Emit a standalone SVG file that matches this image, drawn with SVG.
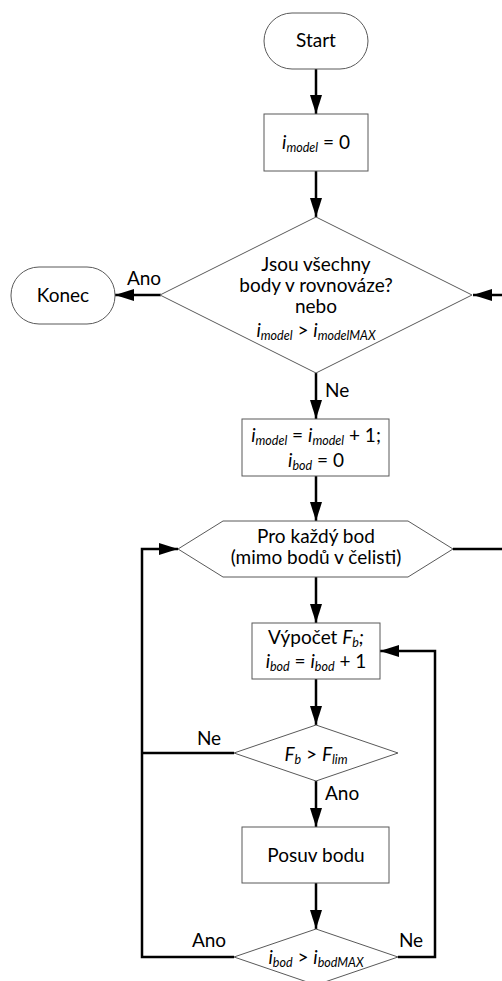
<svg xmlns="http://www.w3.org/2000/svg" width="502" height="981" viewBox="0 0 502 981">
<style>
.shape{fill:#fff;stroke:#595959;stroke-width:1}
.conn{fill:none;stroke:#000;stroke-width:2.5}
text{font-family:Lato,"Open Sans","Liberation Sans",sans-serif;font-size:19px;fill:#000}
.c{text-anchor:middle}
.it{font-style:italic}
.sub{font-style:italic;font-size:12.5px}
</style>
<defs>
<marker id="ah" markerUnits="userSpaceOnUse" markerWidth="19" markerHeight="12" refX="19" refY="6" orient="auto">
<path d="M0,0 L19,6 L0,12 z" fill="#000"/>
</marker>
</defs>
<rect width="502" height="981" fill="#fff"/>
<g id="connectors">
<line class="conn" x1="316" y1="69" x2="316" y2="114" marker-end="url(#ah)"/>
<line class="conn" x1="316" y1="171" x2="316" y2="217" marker-end="url(#ah)"/>
<line class="conn" x1="161" y1="295" x2="115" y2="295" marker-end="url(#ah)"/>
<line class="conn" x1="316" y1="373" x2="316" y2="419" marker-end="url(#ah)"/>
<line class="conn" x1="316" y1="476" x2="316" y2="521" marker-end="url(#ah)"/>
<polyline class="conn" points="453,549 515,549 515,295 473,295" marker-end="url(#ah)"/>
<line class="conn" x1="316" y1="577" x2="316" y2="623" marker-end="url(#ah)"/>
<line class="conn" x1="316" y1="679" x2="316" y2="725" marker-end="url(#ah)"/>
<polyline class="conn" points="234,753 142,753"/>
<line class="conn" x1="316" y1="781" x2="316" y2="827" marker-end="url(#ah)"/>
<line class="conn" x1="316" y1="883" x2="316" y2="929" marker-end="url(#ah)"/>
<polyline class="conn" points="234,957 142,957 142,549 178,549" marker-end="url(#ah)"/>
<polyline class="conn" points="398,957 435,957 435,651 380,651" marker-end="url(#ah)"/>
<text x="144" y="285" class="c">Ano</text>
<text x="325" y="397">Ne</text>
<text x="209" y="745" class="c">Ne</text>
<text x="325" y="800">Ano</text>
<text x="209" y="947" class="c">Ano</text>
<text x="411" y="947" class="c">Ne</text>
</g>
<g id="start">
<rect class="shape" x="264" y="13" width="104" height="56" rx="28" ry="28"/>
<text x="316" y="47" class="c">Start</text>
</g>
<g id="init">
<rect class="shape" x="264" y="114" width="104" height="57"/>
<text x="316" y="149" class="c"><tspan class="it">i</tspan><tspan class="sub" dy="3">model</tspan><tspan dy="-3"> = 0</tspan></text>
</g>
<g id="cond1">
<polygon class="shape" points="316,217 472,295 316,373 160,295"/>
<text x="316" y="271" class="c">Jsou všechny</text>
<text x="316" y="292" class="c">body v rovnováze?</text>
<text x="316" y="313" class="c">nebo</text>
<text x="316" y="337" class="c"><tspan class="it">i</tspan><tspan class="sub" dy="3">model</tspan><tspan dy="-3"> &gt; </tspan><tspan class="it">i</tspan><tspan class="sub" dy="3">modelMAX</tspan></text>
</g>
<g id="konec">
<rect class="shape" x="11" y="267" width="104" height="57" rx="28" ry="28"/>
<text x="63" y="302" class="c">Konec</text>
</g>
<g id="incr">
<rect class="shape" x="242" y="419" width="147" height="57"/>
<text x="316" y="442" class="c"><tspan class="it">i</tspan><tspan class="sub" dy="3">model</tspan><tspan dy="-3"> = </tspan><tspan class="it">i</tspan><tspan class="sub" dy="3">model</tspan><tspan dy="-3"> + 1;</tspan></text>
<text x="316" y="467" class="c"><tspan class="it">i</tspan><tspan class="sub" dy="3">bod</tspan><tspan dy="-3"> = 0</tspan></text>
</g>
<g id="loop">
<polygon class="shape" points="178,549 223,521 408,521 453,549 408,577 223,577"/>
<text x="316" y="543" class="c">Pro každý bod</text>
<text x="316" y="564" class="c">(mimo bodů v čelisti)</text>
</g>
<g id="calc">
<rect class="shape" x="252" y="623" width="128" height="56"/>
<text x="316" y="644" class="c">Výpočet <tspan class="it">F</tspan><tspan class="sub" dy="3">b</tspan><tspan class="it" dy="-3">;</tspan></text>
<text x="316" y="668" class="c"><tspan class="it">i</tspan><tspan class="sub" dy="3">bod</tspan><tspan dy="-3"> = </tspan><tspan class="it">i</tspan><tspan class="sub" dy="3">bod</tspan><tspan dy="-3"> + 1</tspan></text>
</g>
<g id="cond2">
<polygon class="shape" points="316,725 398,753 316,781 234,753"/>
<text x="316" y="761" class="c"><tspan class="it">F</tspan><tspan class="sub" dy="3">b</tspan><tspan dy="-3"> &gt; </tspan><tspan class="it">F</tspan><tspan class="sub" dy="3">lim</tspan></text>
</g>
<g id="move">
<rect class="shape" x="242" y="827" width="147" height="56"/>
<text x="316" y="862" class="c">Posuv bodu</text>
</g>
<g id="cond3">
<polygon class="shape" points="316,929 398,957 316,985 234,957"/>
<text x="316" y="964" class="c"><tspan class="it">i</tspan><tspan class="sub" dy="3">bod</tspan><tspan dy="-3"> &gt; </tspan><tspan class="it">i</tspan><tspan class="sub" dy="3">bodMAX</tspan></text>
</g>
</svg>
